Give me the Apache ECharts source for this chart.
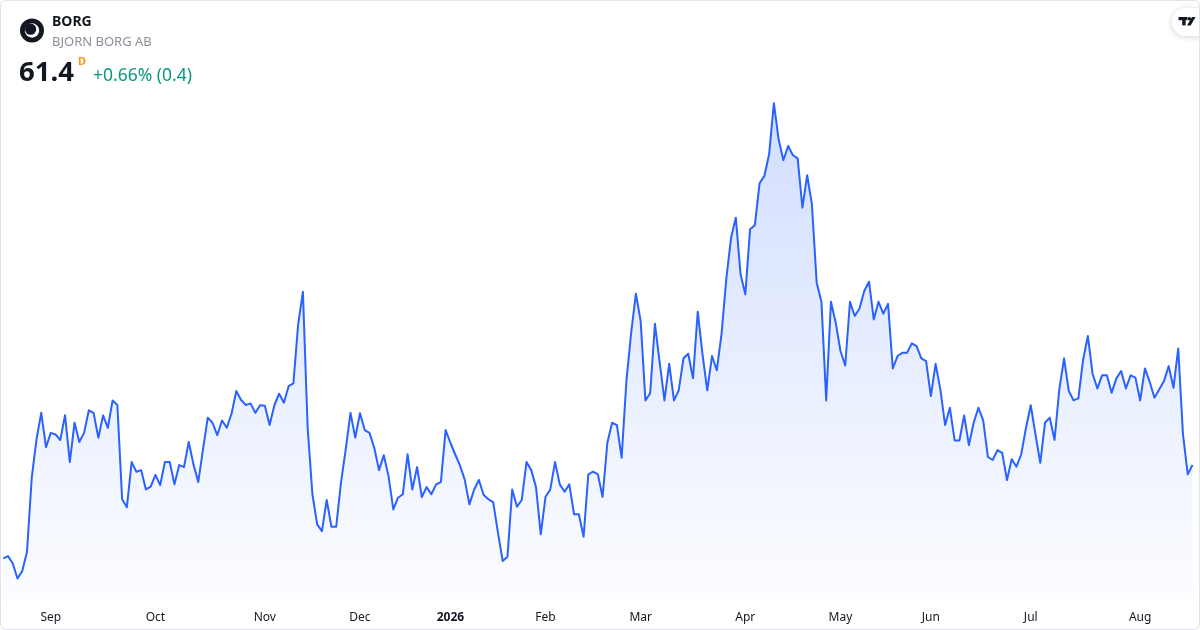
<!DOCTYPE html>
<html>
<head>
<meta charset="utf-8">
<script src="https://cdn.jsdelivr.net/npm/echarts@6/dist/echarts.min.js"></script>
<style>
  html, body { margin: 0; padding: 0; background: #ffffff; }
  #frame { position: absolute; left: 0; top: 0; width: 1200px; height: 630px; box-sizing: border-box;
           border: 1px solid #e0e3eb; border-radius: 6px; overflow: hidden; background: #fff; }
  #chart { position: absolute; left: 0; top: 0; width: 1200px; height: 630px; }
</style>
</head>
<body>
<div id="frame"><div id="chart"></div></div>
<script>
// ---- data ----
const symbol = 'BORG';
const companyName = 'BJORN BORG AB';
const lastPrice = '61.4';
const changeText = '+0.66% (0.4)';
const monthLabels = ['Jan','Feb','Mar','Apr','May','Jun','Jul','Aug','Sep','Oct','Nov','Dec'];
const startDate = '2025-08-18';
const marketHolidays = ['2025-12-24','2025-12-25','2025-12-26','2025-12-31','2026-01-01','2026-01-06',
                        '2026-04-03','2026-04-06','2026-05-01','2026-05-14','2026-06-19'];
const closes = [
  57.34,57.44,57.13,56.47,56.79,57.62,60.85,62.52,63.67,62.18,
  62.80,62.73,62.49,63.57,61.53,63.24,62.40,62.80,63.78,63.67,
  62.59,63.56,63.02,64.21,64.01,59.91,59.57,61.53,61.11,61.18,
  60.34,60.46,60.97,60.53,61.53,61.53,60.56,61.40,61.31,62.40,
  61.43,60.66,62.08,63.46,63.24,62.70,63.34,63.02,63.63,64.62,
  64.23,64.01,64.08,63.67,64.00,63.98,63.14,64.00,64.50,64.11,
  64.83,64.95,67.52,68.93,63.02,60.13,58.82,58.53,59.88,58.72,
  58.72,60.63,62.08,63.67,62.59,63.65,62.92,62.80,62.15,61.18,
  61.83,60.92,59.47,59.98,60.13,61.87,60.34,61.31,60.01,60.44,
  60.13,60.56,60.66,62.92,62.37,61.87,61.39,60.78,59.69,60.34,
  60.75,60.10,59.91,59.79,58.46,57.23,57.41,60.34,59.59,59.88,
  61.53,61.18,60.44,58.39,60.02,60.34,61.53,60.56,60.24,60.56,
  59.26,59.26,58.28,61.00,61.11,61.00,60.01,62.37,63.24,63.14,
  61.72,65.05,67.15,68.85,67.66,64.21,64.52,67.54,65.85,64.21,
  65.80,64.21,64.65,66.04,66.24,65.17,68.07,66.21,64.65,66.14,
  65.52,67.10,69.49,71.28,72.15,69.69,68.82,71.65,71.83,73.65,
  73.97,74.91,77.13,75.56,74.65,75.27,74.87,74.73,72.59,74.00,
  72.73,69.33,68.50,64.21,68.50,67.59,66.36,65.73,68.50,67.88,
  68.21,68.97,69.37,67.73,68.50,67.98,68.41,65.60,66.14,66.28,
  66.28,66.69,66.57,66.04,65.92,64.40,65.80,64.69,63.14,63.89,
  62.47,62.47,63.56,62.27,63.24,63.89,63.34,61.75,61.62,62.05,
  61.93,60.75,61.65,61.33,61.87,63.02,64.00,62.73,61.50,63.24,
  63.46,62.49,64.69,66.04,64.62,64.21,64.30,65.97,67.01,65.37,
  64.73,65.30,65.30,64.54,65.17,65.49,64.73,65.30,65.20,64.21,
  65.60,65.02,64.33,64.69,65.05,65.70,64.76,66.47,62.73,61.00,
  61.40
];

// trading-day categories
const dates = [];
(function () {
  let d = new Date(startDate + 'T00:00:00Z');
  while (dates.length < closes.length) {
    const wd = d.getUTCDay();
    const s = d.toISOString().slice(0, 10);
    if (wd !== 0 && wd !== 6 && marketHolidays.indexOf(s) < 0) dates.push(s);
    d = new Date(d.getTime() + 86400000);
  }
})();
function isMonthStart(i) { return i > 0 && dates[i].slice(0, 7) !== dates[i - 1].slice(0, 7); }

const FONT = '"Noto Sans", "Open Sans", Roboto, sans-serif';
const chart = echarts.init(document.getElementById('chart'), null, { renderer: 'canvas' });

chart.setOption({
  animation: false,
  backgroundColor: 'transparent',
  grid: { left: 2.2, right: 8.5, top: 10, bottom: 30, containLabel: false },
  xAxis: {
    type: 'category',
    data: dates,
    boundaryGap: false,
    axisLine: { show: false },
    axisTick: { show: false },
    splitLine: { show: false },
    axisLabel: {
      interval: function (i) { return isMonthStart(i); },
      margin: 11,
      color: '#131722',
      fontSize: 12,
      fontFamily: FONT,
      formatter: function (v) {
        const m = +v.slice(5, 7);
        if (m === 1) return '{b|' + v.slice(0, 4) + '}';
        return monthLabels[m - 1];
      },
      rich: { b: { fontWeight: 'bold', fontSize: 12, color: '#131722', fontFamily: FONT } }
    }
  },
  yAxis: { type: 'value', show: false, min: 55.49, max: 81.14, splitLine: { show: false } },
  series: [{
    type: 'line',
    data: closes,
    symbol: 'none',
    smooth: false,
    lineStyle: { color: '#2962ff', width: 2, join: 'round' },
    areaStyle: {
      color: new echarts.graphic.LinearGradient(0, 0, 0, 1, [
        { offset: 0, color: 'rgba(41,98,255,0.30)' },
        { offset: 1, color: 'rgba(41,98,255,0.02)' }
      ])
    }
  }],
  graphic: [
    { type: 'circle', shape: { cx: 31, cy: 29.5, r: 12 }, style: { fill: '#131722' } },
    { type: 'circle', shape: { cx: 31, cy: 29.5, r: 7.2 }, style: { fill: '#ffffff' } },
    { type: 'circle', shape: { cx: 29.6, cy: 28.2, r: 5.6 }, style: { fill: '#131722' } },
    { type: 'text', x: 51, y: 21, style: { text: symbol, font: 'bold 14px ' + FONT, fill: '#131722', verticalAlign: 'middle' } },
    { type: 'text', x: 51, y: 41, style: { text: companyName, font: '13px ' + FONT, fill: '#8c8f99', verticalAlign: 'middle' } },
    { type: 'text', x: 18, y: 72.5, style: { text: lastPrice, font: 'bold 27.5px ' + FONT, fill: '#131722', verticalAlign: 'middle' } },
    { type: 'text', x: 77, y: 61, style: { text: 'D', font: 'bold 11px ' + FONT, fill: '#ff9800', verticalAlign: 'middle' } },
    { type: 'text', x: 92, y: 75, style: { text: changeText, font: '17.5px ' + FONT, fill: '#089981', verticalAlign: 'middle' } },
    { type: 'rect', shape: { x: 1171, y: 7, width: 44, height: 28, r: 14 },
      style: { fill: '#ffffff', shadowBlur: 6, shadowColor: 'rgba(0,0,0,0.18)', shadowOffsetY: 1 } },
    { type: 'rect', shape: { x: 1177.5, y: 16, width: 9, height: 3.2 }, style: { fill: '#131722' } },
    { type: 'rect', shape: { x: 1181.2, y: 16, width: 3.4, height: 8.4 }, style: { fill: '#131722' } },
    { type: 'circle', shape: { cx: 1188.4, cy: 17.7, r: 1.7 }, style: { fill: '#131722' } },
    { type: 'polygon', shape: { points: [[1191, 16], [1194.6, 16], [1189.6, 24.4], [1186, 24.4]] }, style: { fill: '#131722' } }
  ]
});
</script>
</body>
</html>
